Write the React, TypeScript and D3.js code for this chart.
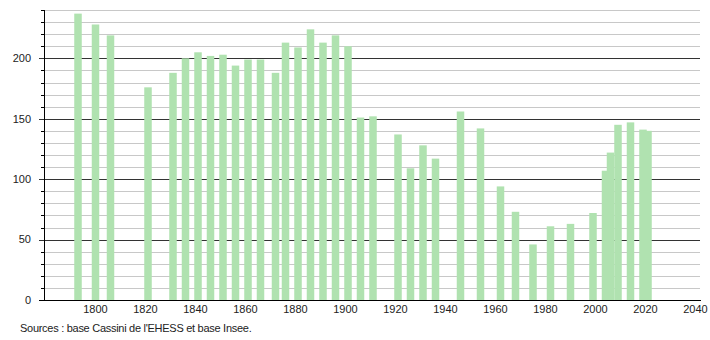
import React from "react";
import * as d3 from "d3";

const years = [1793, 1800, 1806, 1821, 1831, 1836, 1841, 1846, 1851, 1856, 1861, 1866, 1872, 1876, 1881, 1886, 1891, 1896, 1901, 1906, 1911, 1921, 1926, 1931, 1936, 1946, 1954, 1962, 1968, 1975, 1982, 1990, 1999, 2004, 2006, 2009, 2014, 2019, 2021];
const population = [237, 228, 219, 176, 188, 200, 205, 202, 203, 194, 199, 199, 188, 213, 209, 224, 213, 219, 210, 151, 152, 137, 109, 128, 117, 156, 142, 94, 73, 46, 61, 63, 72, 107, 122, 145, 147, 141, 140];
const xTicks = [1800, 1820, 1840, 1860, 1880, 1900, 1920, 1940, 1960, 1980, 2000, 2020, 2040];
const yMajor = [0, 50, 100, 150, 200];
const source = "Sources : base Cassini de l'EHESS et base Insee.";

export default function App() {
  const W = 710, H = 340;
  const x = d3.scaleLinear().domain([1780, 2042]).range([45.5, 700.5]);
  const y = d3.scaleLinear().domain([0, 240]).range([300, 10]);
  const minor = d3.range(10, 241, 10).filter((v) => v % 50 !== 0);
  const barW = 7.5;
  const font = "'Liberation Sans', Arial, sans-serif";
  return (
    <svg width={W} height={H} style={{ position: "absolute", left: 0, top: 0, background: "#fff" }}>
      <rect width={W} height={H} fill="#fff" />
      {minor.map((v) => (
        <g key={"m" + v}>
          <line x1={44} x2={700} y1={Math.round(y(v)) + 0.5} y2={Math.round(y(v)) + 0.5} stroke="#c8c8c8" strokeWidth={1} />
          <line x1={41} x2={44} y1={Math.round(y(v)) + 0.5} y2={Math.round(y(v)) + 0.5} stroke="#000" strokeWidth={1} />
        </g>
      ))}
      {yMajor.filter((v) => v > 0).map((v) => (
        <line key={"M" + v} x1={39} x2={700} y1={Math.round(y(v)) + 0.5} y2={Math.round(y(v)) + 0.5} stroke="#333" strokeWidth={1} />
      ))}
      {years.map((yr, i) => (
        <rect key={yr} x={x(yr) - barW / 2} y={y(population[i])} width={barW} height={y(0) - y(population[i])} fill="#b0e2b0" />
      ))}
      <line x1={44.5} x2={44.5} y1={10} y2={300} stroke="#000" strokeWidth={1} />
      <line x1={39} x2={701} y1={300.5} y2={300.5} stroke="#000" strokeWidth={1} />
      {yMajor.map((v) => (
        <text key={"t" + v} x={31} y={y(v)} dy="0.35em" textAnchor="end" fontFamily={font} fontSize={11} fill="#222">{v}</text>
      ))}
      {xTicks.map((t) => (
        <text key={"x" + t} x={x(t)} y={313} textAnchor="middle" fontFamily={font} fontSize={11} fill="#222">{t}</text>
      ))}
      <text x={20} y={332} fontFamily={font} fontSize={11} letterSpacing={-0.28} fill="#222">{source}</text>
    </svg>
  );
}
